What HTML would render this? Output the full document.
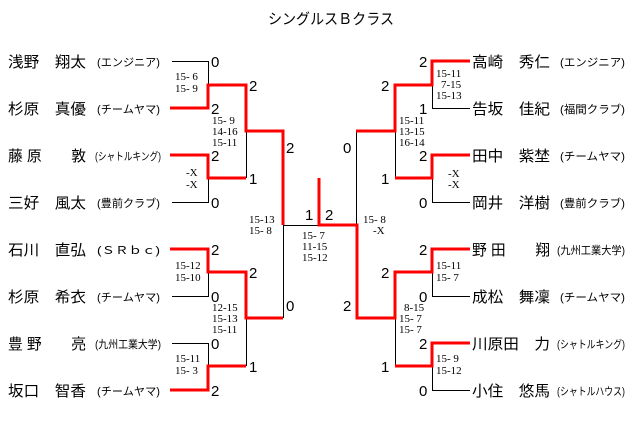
<!DOCTYPE html>
<html><head><meta charset="utf-8"><style>
html,body{margin:0;padding:0;background:#fff;}
svg{display:block;}
.n{font-family:"Liberation Sans","Noto Sans CJK JP",sans-serif;font-size:15px;fill:#000;}
.a{font-family:"Liberation Sans","Noto Sans CJK JP",sans-serif;font-size:11px;fill:#000;}
.s{font-family:"Liberation Sans",sans-serif;font-size:15px;fill:#000;}
.m{font-family:"Liberation Serif","Noto Serif CJK SC",serif;font-size:11px;fill:#000;}
.t{font-family:"Liberation Sans","Noto Sans CJK JP",sans-serif;font-size:15px;fill:#000;}
</style></head><body>
<svg width="640" height="429" viewBox="0 0 640 429" xmlns="http://www.w3.org/2000/svg">
<text class="t" x="268" y="24" textLength="126" lengthAdjust="spacingAndGlyphs">シングルスＢクラス</text>

<!-- left names -->
<g>
<text class="n" x="8" y="67" textLength="78" lengthAdjust="spacingAndGlyphs">浅野　翔太</text>
<text class="a" x="97" y="66" textLength="63" lengthAdjust="spacingAndGlyphs">(エンジニア)</text>
<text class="n" x="8" y="114" textLength="78" lengthAdjust="spacingAndGlyphs">杉原　真優</text>
<text class="a" x="97" y="113" textLength="63" lengthAdjust="spacingAndGlyphs">(チームヤマ)</text>
<text class="n" x="8" y="161" textLength="78" lengthAdjust="spacingAndGlyphs">藤 原　　敦</text>
<text class="a" x="95" y="160" textLength="66" lengthAdjust="spacingAndGlyphs">(シャトルキング)</text>
<text class="n" x="8" y="208" textLength="78" lengthAdjust="spacingAndGlyphs">三好　風太</text>
<text class="a" x="97" y="207" textLength="63" lengthAdjust="spacingAndGlyphs">(豊前クラブ)</text>
<text class="n" x="8" y="255" textLength="78" lengthAdjust="spacingAndGlyphs">石川　直弘</text>
<text class="a" x="97" y="254" textLength="63" lengthAdjust="spacingAndGlyphs">(ＳＲｂｃ)</text>
<text class="n" x="8" y="302" textLength="78" lengthAdjust="spacingAndGlyphs">杉原　希衣</text>
<text class="a" x="97" y="301" textLength="63" lengthAdjust="spacingAndGlyphs">(チームヤマ)</text>
<text class="n" x="8" y="349" textLength="78" lengthAdjust="spacingAndGlyphs">豊 野　　亮</text>
<text class="a" x="95" y="348" textLength="66" lengthAdjust="spacingAndGlyphs">(九州工業大学)</text>
<text class="n" x="8" y="396" textLength="78" lengthAdjust="spacingAndGlyphs">坂口　智香</text>
<text class="a" x="97" y="395" textLength="63" lengthAdjust="spacingAndGlyphs">(チームヤマ)</text>
</g>
<!-- right names -->
<g>
<text class="n" x="472" y="67" textLength="78" lengthAdjust="spacingAndGlyphs">高崎　秀仁</text>
<text class="a" x="560" y="66" textLength="65" lengthAdjust="spacingAndGlyphs">(エンジニア)</text>
<text class="n" x="472" y="114" textLength="78" lengthAdjust="spacingAndGlyphs">告坂　佳紀</text>
<text class="a" x="560" y="113" textLength="65" lengthAdjust="spacingAndGlyphs">(福間クラブ)</text>
<text class="n" x="472" y="161" textLength="78" lengthAdjust="spacingAndGlyphs">田中　紫埜</text>
<text class="a" x="560" y="160" textLength="65" lengthAdjust="spacingAndGlyphs">(チームヤマ)</text>
<text class="n" x="472" y="208" textLength="78" lengthAdjust="spacingAndGlyphs">岡井　洋樹</text>
<text class="a" x="560" y="207" textLength="65" lengthAdjust="spacingAndGlyphs">(豊前クラブ)</text>
<text class="n" x="472" y="255" textLength="78" lengthAdjust="spacingAndGlyphs">野 田　　翔</text>
<text class="a" x="557" y="254" textLength="68" lengthAdjust="spacingAndGlyphs">(九州工業大学)</text>
<text class="n" x="472" y="302" textLength="78" lengthAdjust="spacingAndGlyphs">成松　舞凜</text>
<text class="a" x="560" y="301" textLength="65" lengthAdjust="spacingAndGlyphs">(チームヤマ)</text>
<text class="n" x="472" y="349" textLength="78" lengthAdjust="spacingAndGlyphs">川原田　力</text>
<text class="a" x="557" y="348" textLength="68" lengthAdjust="spacingAndGlyphs">(シャトルキング)</text>
<text class="n" x="472" y="396" textLength="78" lengthAdjust="spacingAndGlyphs">小住　悠馬</text>
<text class="a" x="557" y="395" textLength="68" lengthAdjust="spacingAndGlyphs">(シャトルハウス)</text>
</g>

<!-- black lines -->
<g stroke="#000" stroke-width="1" fill="none">
<path d="M172 61.5H208.5V85"/>
<path d="M208.5 178V202.5H172"/>
<path d="M208.5 272V296.5H172"/>
<path d="M172 343.5H208.5V366"/>
<path d="M246.5 131V178"/>
<path d="M246.5 318V366"/>
<path d="M283.5 225.5V318"/>
<path d="M283 225.5H357"/>
<path d="M356.5 131V225"/>
<path d="M470 108.5H432.5V85"/>
<path d="M470 202.5H432.5V178"/>
<path d="M470 296.5H432.5V272"/>
<path d="M470 390.5H432.5V366"/>
<path d="M395.5 131V178"/>
<path d="M395.5 318V366"/>
</g>
<!-- red lines -->
<g stroke="#f00" stroke-width="3" fill="none">
<path d="M170 108H208V85H246V131H283V225"/>
<path d="M170 155H208V178H246"/>
<path d="M170 249H208V272H246V318H283"/>
<path d="M170 390H208V366H246"/>
<path d="M319 178V225H357V318H395V272H432V249H470"/>
<path d="M395 366H432V343H470"/>
<path d="M470 61H432V85H395V131H356"/>
<path d="M395 178H432V155H470"/>
</g>

<!-- scores -->
<g class="s">
<text x="211" y="67">0</text><text x="211" y="114">2</text>
<text x="211" y="161">2</text><text x="211" y="208">0</text>
<text x="211" y="255">2</text><text x="211" y="302">0</text>
<text x="211" y="349">0</text><text x="211" y="396">2</text>
<text x="249" y="91">2</text><text x="249" y="184">1</text>
<text x="249" y="278">2</text><text x="249" y="372">1</text>
<text x="286" y="153">2</text><text x="286" y="311">0</text>
<text x="305" y="220">1</text><text x="325" y="220">2</text>
<text x="343" y="153">0</text><text x="343" y="311">2</text>
<text x="381" y="91">2</text><text x="381" y="184">1</text>
<text x="381" y="278">2</text><text x="381" y="372">1</text>
<text x="419" y="67">2</text><text x="419" y="114">1</text>
<text x="419" y="161">2</text><text x="419" y="208">0</text>
<text x="419" y="255">2</text><text x="419" y="302">0</text>
<text x="419" y="349">2</text><text x="419" y="396">0</text>
</g>
<g class="m">
<text x="175" y="80">15- 6</text><text x="175" y="92">15- 9</text>
<text x="186" y="176">-X</text><text x="186" y="188">-X</text>
<text x="175" y="269">15-12</text><text x="175" y="281">15-10</text>
<text x="175" y="362">15-11</text><text x="175" y="374">15- 3</text>
<text x="212" y="124">15- 9</text><text x="212" y="135">14-16</text><text x="212" y="146">15-11</text>
<text x="212" y="311">12-15</text><text x="212" y="322">15-13</text><text x="212" y="333">15-11</text>
<text x="249" y="223">15-13</text><text x="249" y="234">15- 8</text>
<text x="302" y="239">15- 7</text><text x="302" y="250">11-15</text><text x="302" y="261">15-12</text>
<text x="363" y="223">15- 8</text><text x="373" y="234">-X</text>
<text x="436" y="77">15-11</text><text x="441" y="88">7-15</text><text x="436" y="99">15-13</text>
<text x="399" y="124">15-11</text><text x="399" y="135">13-15</text><text x="399" y="146">16-14</text>
<text x="448" y="177">-X</text><text x="448" y="188">-X</text>
<text x="436" y="269">15-11</text><text x="436" y="281">15- 7</text>
<text x="404" y="311">8-15</text><text x="399" y="322">15- 7</text><text x="399" y="333">15- 7</text>
<text x="436" y="362">15- 9</text><text x="436" y="374">15-12</text>
</g>
</svg>
</body></html>
